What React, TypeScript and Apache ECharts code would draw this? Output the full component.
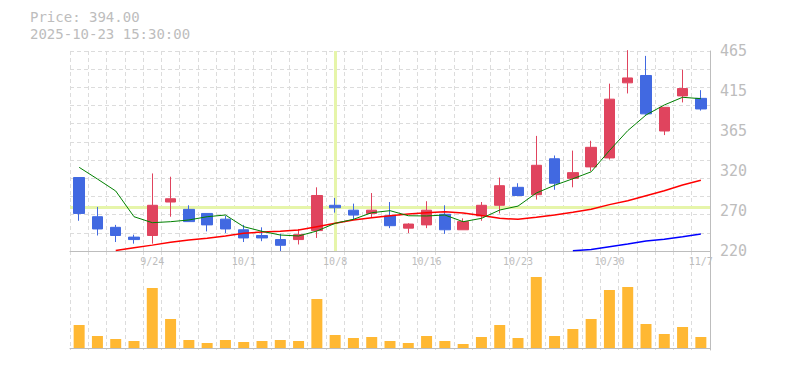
import React, { useEffect, useRef } from "react";
import * as echarts from "echarts";

const dates = [
  "9/17", "9/18", "9/19", "9/22", "9/24", "9/25", "9/26", "9/29", "9/30", "10/1",
  "10/2", "10/3", "10/6", "10/7", "10/8", "10/9", "10/10", "10/14", "10/15", "10/16",
  "10/17", "10/20", "10/21", "10/22", "10/23", "10/24", "10/27", "10/28", "10/29", "10/30",
  "10/31", "11/4", "11/5", "11/6", "11/7",
];

const opens = [310, 262, 249, 237, 239, 280, 271, 266, 259, 246, 239, 234, 234, 245, 276, 270, 266, 263, 248, 252, 265, 246, 263, 276, 298, 289, 333, 309, 323, 334, 426, 435, 367, 410, 407];
const closes = [266, 247, 239, 234, 276, 284, 256, 252, 247, 236, 236, 227, 240, 288, 273, 264, 270, 251, 253, 270, 246, 256, 276, 300, 288, 325, 303, 316, 347, 406, 432, 388, 396, 419, 394];
const lows = [257, 239, 231, 229, 229, 262, 256, 244, 242, 231, 232, 220, 228, 236, 267, 258, 261, 248, 242, 248, 241, 246, 257, 266, 287, 283, 295, 298, 318, 332, 413, 387, 362, 402, 392];
const highs = [310, 274, 252, 240, 315, 311, 276, 266, 263, 252, 249, 241, 247, 298, 285, 278, 291, 280, 254, 281, 276, 260, 280, 310, 303, 361, 337, 343, 355, 425, 466, 459, 396, 442, 417];

const maShort = [322.5, 308.2, 293.5, 262, 254.7, 255.9, 258, 262, 264.1, 249.8, 244.1, 239.6, 238.4, 244.5, 253.9, 258.8, 266.9, 269.4, 263.2, 262.9, 264.1, 255.9, 260, 270.2, 275, 291, 300.5, 308.5, 317, 343, 367.4, 386.6, 398.9, 408.3, 406.6];
const maMid = [null, null, 220.6, 224, 227.2, 230.8, 233.5, 235.6, 238.4, 241.7, 243.3, 244.1, 245.7, 249.8, 253.9, 258, 260.8, 263.2, 265.3, 266.9, 268.1, 266.6, 263.5, 260, 258.8, 261.3, 264.1, 267.4, 271.1, 276.8, 281.5, 287.7, 293.9, 300.9, 306.6];
const maLong = [null, null, null, null, null, null, null, null, null, null, null, null, null, null, null, null, null, null, null, null, null, null, null, null, null, null, null, 220.3, 221.8, 225.3, 228.6, 232.3, 234.3, 237.5, 240.8];

const volumes = [23000, 12000, 9000, 7000, 60000, 29000, 8000, 5000, 8000, 6000, 7000, 8000, 7000, 49000, 13000, 10000, 11000, 7000, 5000, 12000, 7000, 4000, 11000, 23000, 10000, 71000, 12000, 19000, 29000, 58000, 61000, 24000, 14000, 21000, 11000];

const priceText = "Price: 394.00";
const timeText = "2025-10-23 15:30:00";
const crossDate = "10/8";
const crossPrice = 273;

const MONO = '"DejaVu Sans Mono", monospace';
const GRAY = "#bdbdbd";
const GRID = "#dcdcdc";
const UP = "#e0445e";
const DOWN = "#4169e1";

export default function App() {
  const ref = useRef<HTMLDivElement>(null);

  useEffect(() => {
    if (!ref.current) return;
    const chart = echarts.init(ref.current, null, { renderer: "svg" });
    const candles = dates.map((_, i) => [opens[i], closes[i], lows[i], highs[i]]);
    const dash = [4, 3];

    chart.setOption({
      animation: false,
      graphic: [
        { type: "text", left: 30, top: 10, style: { text: priceText, fill: GRAY, font: `14px ${MONO}` } },
        { type: "text", left: 30, top: 27, style: { text: timeText, fill: GRAY, font: `14px ${MONO}` } },
      ],
      grid: [
        { left: 70, right: 75, top: 51, height: 200 },
        { left: 70, right: 75, top: 251, height: 99 },
      ],
      xAxis: [
        {
          type: "category",
          gridIndex: 0,
          data: dates,
          boundaryGap: true,
          axisLine: { lineStyle: { color: GRAY } },
          axisTick: { show: false },
          axisLabel: {
            interval: (i: number) => i % 5 === 4,
            color: GRAY,
            fontSize: 10,
            fontFamily: MONO,
            margin: 5,
          },
          splitLine: { show: true, interval: 0, lineStyle: { color: GRID, type: dash } },
        },
        {
          type: "category",
          gridIndex: 1,
          data: dates,
          boundaryGap: true,
          axisLine: { lineStyle: { color: GRAY } },
          axisTick: { show: false },
          axisLabel: { show: false },
          splitLine: { show: true, interval: 0, lineStyle: { color: GRID, type: dash } },
        },
      ],
      yAxis: [
        {
          type: "value",
          gridIndex: 0,
          position: "right",
          min: 220,
          max: 465,
          interval: 49,
          axisLine: { show: true, lineStyle: { color: GRAY } },
          axisTick: { show: false },
          splitLine: { show: false },
          axisLabel: {
            color: GRAY,
            fontSize: 15,
            fontFamily: MONO,
            margin: 10,
            padding: [4, 0, 0, 0],
            formatter: (v: number) => String(Math.round(v / 5) * 5),
          },
        },
        {
          type: "value",
          gridIndex: 0,
          position: "left",
          min: 0,
          max: 11,
          interval: 1,
          axisLine: { show: false },
          axisTick: { show: false },
          axisLabel: { show: false },
          splitLine: { show: true, lineStyle: { color: GRID, type: dash } },
        },
        {
          type: "value",
          gridIndex: 1,
          position: "right",
          min: -2000,
          max: 97000,
          axisLine: { show: true, lineStyle: { color: GRAY } },
          axisTick: { show: false },
          axisLabel: { show: false },
          splitLine: { show: false },
        },
      ],
      series: [
        {
          type: "candlestick",
          xAxisIndex: 0,
          yAxisIndex: 0,
          data: candles,
          barWidth: 11,
          itemStyle: { color: UP, color0: DOWN, borderColor: UP, borderColor0: DOWN, borderWidth: 1 },
          markLine: {
            silent: true,
            z: 1,
            symbol: ["none", "none"],
            label: { show: false },
            lineStyle: { color: "#e6f5aa", width: 3, type: "solid" },
            data: [{ xAxis: crossDate }, { yAxis: crossPrice }],
          },
          z: 3,
        },
        {
          type: "line",
          xAxisIndex: 0,
          yAxisIndex: 0,
          data: maMid,
          showSymbol: false,
          lineStyle: { color: "#ff0000", width: 1.5 },
          z: 4,
        },
        {
          type: "line",
          xAxisIndex: 0,
          yAxisIndex: 0,
          data: maLong,
          showSymbol: false,
          lineStyle: { color: "#0000ff", width: 1.5 },
          z: 4,
        },
        {
          type: "line",
          xAxisIndex: 0,
          yAxisIndex: 0,
          data: maShort,
          showSymbol: false,
          lineStyle: { color: "#008000", width: 1 },
          z: 4,
        },
        {
          type: "bar",
          xAxisIndex: 1,
          yAxisIndex: 2,
          data: volumes,
          barWidth: 11,
          itemStyle: { color: "#ffb833" },
        },
      ],
    });
    return () => chart.dispose();
  }, []);

  return (
    <div
      ref={ref}
      style={{ position: "fixed", left: 0, top: 0, width: 785, height: 370, background: "#fff" }}
    />
  );
}
